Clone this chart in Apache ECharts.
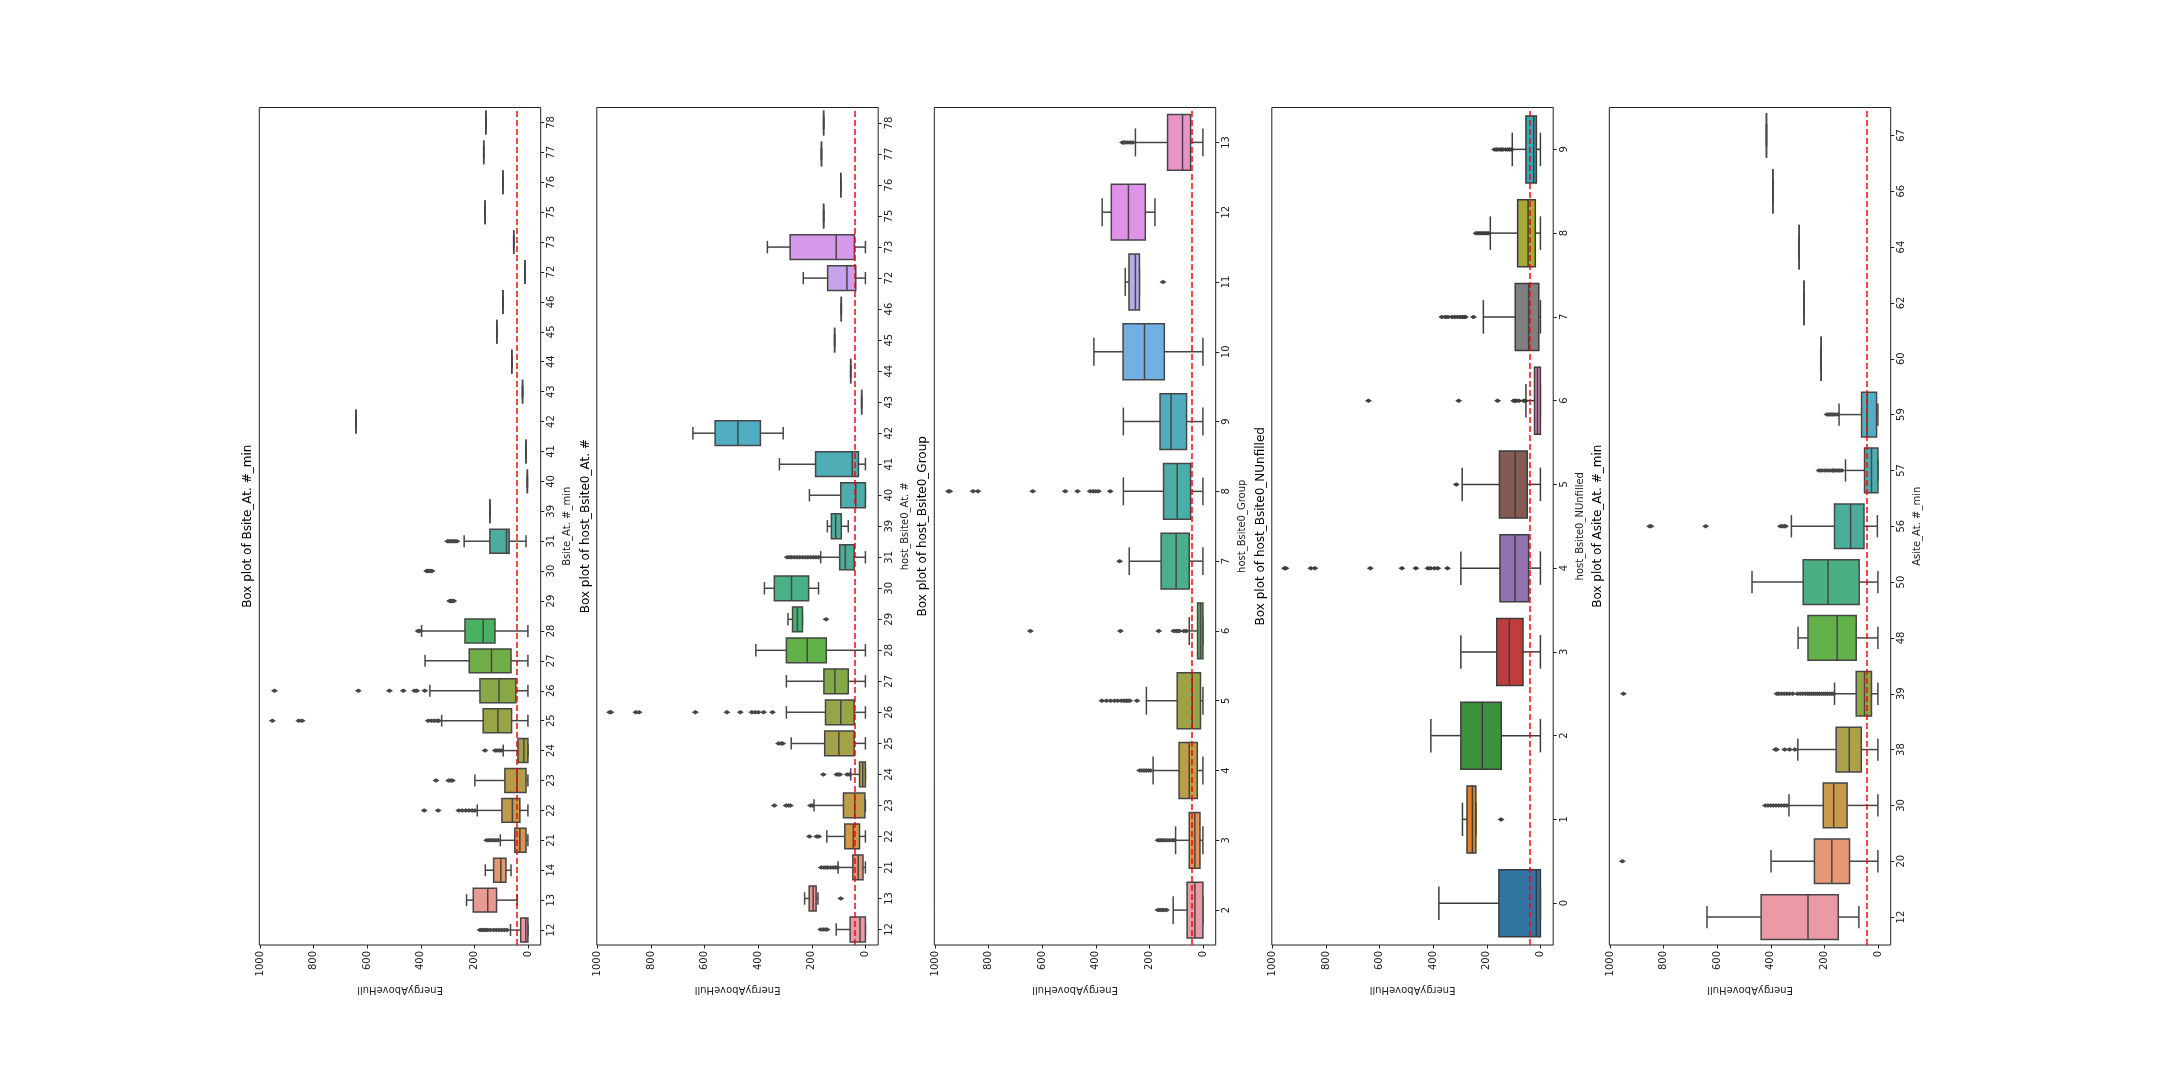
<!DOCTYPE html>
<html><head><meta charset="utf-8">
<script src="https://cdn.jsdelivr.net/npm/echarts@6/dist/echarts.min.js"></script>
<style>html,body{margin:0;padding:0;background:#fff}#c{width:2160px;height:1080px}</style>
</head><body><div id="c"></div>
<script>
// ---------------- data ----------------
const valueTicks = [0, 200, 400, 600, 800, 1000];
const hullThreshold = 41;

const p1Title = 'Box plot of Bsite_At. #_min';
const p1Name = 'Bsite_At. #_min';
const p1Cats = ['12','13','14','21','22','23','24','25','26','27','28','29','30','31','39','40','41','42','43','44','45','46','72','73','75','76','77','78'];
// [min whisker, Q1, median, Q3, max whisker]
const p1Boxes = [
  [0,0,8,27,65],[40,117,150,204,229],[63,82,101,128,159],[0,7,30,49,103],[0,30,58,97,189],
  [0,7,41,86,198],[0,0,15,37,92],[0,61,112,167,322],[0,45,108,179,366],[0,63,136,219,384],
  [0,123,167,235,397],null,null,[7,70,80,142,238],[142,142,142,142,142],[2,2,2,2,2],[7,7,7,7,7],
  [642,642,642,642,642],[20,20,20,20,20],[60,60,60,60,60],[116,116,116,116,116],[93,93,93,93,93],
  [11,11,11,11,11],[53,53,53,53,53],[160,160,160,160,160],[93,93,93,93,93],[165,165,165,165,165],[157,157,157,157,157]
];
const p1Fliers = [
  ['12',[179,172,165,158,150,140,128,118,108,98,88,78]],
  ['21',[154,146,138,130,120,112]],
  ['22',[387,335,258,245,232,220,208,198]],
  ['23',[343,296,288,282]],
  ['24',[160,122,114,106,98]],
  ['25',[954,855,843,372,360,350,340,333]],
  ['26',[946,633,517,465,423,415,385]],
  ['28',[410,404]],
  ['29',[292,289,286,283,280,277]],
  ['30',[378,374,370,366,362,358]],
  ['31',[300,293,286,279,272,265]]
];

const p2Title = 'Box plot of host_Bsite0_At. #';
const p2Name = 'host_Bsite0_At. #';
const p2Cats = ['12','13','21','22','23','24','25','26','27','28','29','30','31','39','40','41','42','43','44','45','46','72','73','75','76','77','78'];
const p2Boxes = [
  [0,0,20,57,109],[177,184,195,210,227],[0,9,27,47,102],[0,22,45,77,144],[0,2,40,82,192],
  [0,0,10,22,55],[0,42,99,152,277],[0,42,92,149,295],[0,64,114,155,295],[0,146,217,295,409],
  [235,235,254,272,289],[175,212,276,340,377],[0,42,75,96,167],[64,90,111,127,142],[0,0,36,92,209],
  [0,26,49,186,321],[307,392,476,561,644],[14,14,14,14,14],[55,55,55,55,55],[115,115,115,115,115],
  [90,90,90,90,90],[0,36,69,141,232],[0,41,109,281,366],[156,156,156,156,156],[92,92,92,92,92],
  [164,164,164,164,164],[156,156,156,156,156]
];
const p2Fliers = [
  ['12',[167,158,150,143]],
  ['13',[92]],
  ['21',[165,155,147,140,130,120,112,105]],
  ['22',[209,182,174]],
  ['23',[340,296,287,280,205,198]],
  ['24',[157,107,100,95,68,60]],
  ['25',[324,314,309]],
  ['26',[955,950,857,845,635,517,467,424,412,400,380,347]],
  ['29',[147]],
  ['31',[292,283,275,265,255,245,235,225,215,205,195,185,175]]
];

const p3Title = 'Box plot of host_Bsite0_Group';
const p3Name = 'host_Bsite0_Group';
const p3Cats = ['2','3','4','5','6','7','8','9','10','11','12','13'];
const p3Boxes = [
  [0,0,30,59,111],[0,11,30,51,102],[0,21,51,89,186],[0,9,40,96,211],[0,0,9,20,51],[0,51,100,156,275],
  [0,46,96,147,297],[0,61,119,160,297],[0,144,218,298,407],[237,237,252,276,290],[179,215,278,342,376],[0,46,76,132,252]
];
const p3Fliers = [
  ['2',[168,160,152,145,136]],
  ['3',[168,160,152,145,135,125,115,108]],
  ['4',[236,228,220,212,204,196]],
  ['5',[377,360,345,330,318,305,295,287,280,273,246]],
  ['6',[644,308,165,109,100,95,88,71,62]],
  ['7',[311]],
  ['8',[950,945,858,840,635,514,468,421,410,400,390,346]],
  ['11',[149]],
  ['13',[300,295,290,280,270,262]]
];

const p4Title = 'Box plot of host_Bsite0_NUnfilled';
const p4Name = 'host_Bsite0_NUnfilled';
const p4Cats = ['0','1','2','3','4','5','6','7','8','9'];
const p4Boxes = [
  [0,0,15,155,379],[241,241,254,274,291],[0,146,217,297,409],[0,65,116,163,297],[0,44,95,151,297],
  [0,49,94,153,292],[0,0,11,22,54],[0,6,44,94,213],[0,19,46,85,187],[0,15,25,54,105]
];
const p4Fliers = [
  ['1',[147]],
  ['4',[955,950,857,842,635,517,465,420,410,395,383,347]],
  ['5',[314]],
  ['6',[642,305,160,100,95,90,80,62,56]],
  ['7',[368,355,345,330,320,310,300,292,285,280,250]],
  ['8',[240,232,225,218,210,202,195]],
  ['9',[171,165,160,152,145,140,130,122,115,108]]
];

const p5Title = 'Box plot of Asite_At. #_min';
const p5Name = 'Asite_At. #_min';
const p5Cats = ['12','20','30','38','39','48','50','56','57','59','60','62','64','66','67'];
const p5Boxes = [
  [71,148,261,436,638],[0,106,172,237,399],[0,115,165,204,332],[0,62,107,156,299],[0,24,50,81,162],
  [0,81,152,261,298],[0,70,186,279,470],[2,52,102,162,323],[0,0,24,50,121],[0,5,40,61,145],
  [212,212,212,212,212],[276,276,276,276,276],[294,294,294,294,294],[392,392,392,392,392],[416,416,416,416,416]
];
const p5Fliers = [
  ['20',[954]],
  ['30',[420,410,400,390,380,370,360,350,340]],
  ['38',[383,378,348,330,310]],
  ['39',[950,377,370,360,350,340,330,318,300,290,280,270,262,255,247,240,232,225,218,210,202,195,188,180,172,165]],
  ['56',[852,847,643,364,357,350,345]],
  ['57',[220,210,200,190,180,170,165,158,150,143,135]],
  ['59',[190,182,175,168,160,150]]
];

// ---------------- colours (seaborn defaults) ----------------
const tab10 = ['#1f77b4','#ff7f0e','#2ca02c','#d62728','#9467bd','#8c564b','#e377c2','#7f7f7f','#bcbd22','#17becf'];
const M = [[3.2406,-1.5372,-0.4986],[-0.9689,1.8758,0.0415],[0.0557,-0.2040,1.0570]];
function maxChroma(L,H){
  const hr=H*Math.PI/180, sinH=Math.sin(hr), cosH=Math.cos(hr);
  const sub1=Math.pow(L+16,3)/1560896, sub2=sub1>0.008856?sub1:L/903.3;
  let res=Infinity;
  for(const [m1,m2,m3] of M){
    const top=(0.99915*m1+1.05122*m2+1.14460*m3)*sub2;
    const rb=0.86330*m3-0.17266*m2, lb=0.12949*m3-0.38848*m1;
    const bottom=(rb*sinH+lb*cosH)*sub2;
    for(const t of [0,1]){
      const C=L*(top-1.05122*t)/(bottom+0.17266*sinH*t);
      if(C>0 && C<res) res=C;
    }
  }
  return res;
}
function huslToRgb(H,S,L){
  const C=maxChroma(L,H)/100*S, hr=H*Math.PI/180;
  const U=Math.cos(hr)*C, V=Math.sin(hr)*C;
  const fy=(L+16)/116, varY=Math.pow(fy,3)>0.008856?Math.pow(fy,3):(116*fy-16)/903.3;
  const varU=U/(13*L)+0.19784, varV=V/(13*L)+0.46834;
  const Y=varY, X=-(9*Y*varU)/((varU-4)*varV-varU*varV), Z=(9*Y-15*varV*Y-varV*X)/(3*varV);
  return M.map(r=>{const c=r[0]*X+r[1]*Y+r[2]*Z; const v=c<=0.0031308?12.92*c:1.055*Math.pow(c,1/2.4)-0.055; return Math.min(1,Math.max(0,v));});
}
function rgbToHls(r,g,b){
  const mx=Math.max(r,g,b), mn=Math.min(r,g,b), l=(mx+mn)/2;
  if(mx===mn) return [0,l,0];
  const s = l<=0.5 ? (mx-mn)/(mx+mn) : (mx-mn)/(2-mx-mn);
  const rc=(mx-r)/(mx-mn), gc=(mx-g)/(mx-mn), bc=(mx-b)/(mx-mn);
  let h = r===mx ? bc-gc : (g===mx ? 2+rc-bc : 4+gc-rc);
  h = ((h/6)%1+1)%1;
  return [h,l,s];
}
function hlsToRgb(h,l,s){
  if(s===0) return [l,l,l];
  const m2 = l<=0.5 ? l*(1+s) : l+s-l*s, m1 = 2*l-m2;
  const v=(hue)=>{hue=((hue%1)+1)%1; if(hue<1/6) return m1+(m2-m1)*hue*6; if(hue<0.5) return m2; if(hue<2/3) return m1+(m2-m1)*(2/3-hue)*6; return m1;};
  return [v(h+1/3),v(h),v(h-1/3)];
}
function hexToRgb(h){return [1,3,5].map(i=>parseInt(h.substr(i,2),16)/255);}
function toHex(rgb){return '#'+rgb.map(c=>Math.round(c*255).toString(16).padStart(2,'0')).join('');}
function desat(rgb,p){const [h,l,s]=rgbToHls(...rgb); return hlsToRgb(h,l,s*p);}
function seabornPalette(n){
  let raw;
  if(n<=10) raw = tab10.slice(0,n).map(hexToRgb);
  else {
    raw=[];
    for(let i=0;i<n;i++){ let h=(i/n+0.01)%1; h*=359; raw.push(huslToRgb(h,0.9*99,70)); }
  }
  const cols = raw.map(c=>desat(c,0.75));
  const lum = Math.min(...cols.map(c=>rgbToHls(...c)[1]))*0.6;
  return {colors: cols.map(toHex), gray: toHex([lum,lum,lum])};
}

// ---------------- layout ----------------
const panels = [
  {title:p1Title, name:p1Name, cats:p1Cats, boxes:p1Boxes, fliers:p1Fliers},
  {title:p2Title, name:p2Name, cats:p2Cats, boxes:p2Boxes, fliers:p2Fliers},
  {title:p3Title, name:p3Name, cats:p3Cats, boxes:p3Boxes, fliers:p3Fliers},
  {title:p4Title, name:p4Name, cats:p4Cats, boxes:p4Boxes, fliers:p4Fliers},
  {title:p5Title, name:p5Name, cats:p5Cats, boxes:p5Boxes, fliers:p5Fliers}
];
const FONT = 'DejaVu Sans';
const gridLefts = [259.3, 596.8, 934.3, 1271.8, 1609.3];
const gridW = 281.4, gridTop = 107.5, gridH = 837.5;

function makeRender(colors, gray){
  return function(params, api){
    const ci = api.value(0);
    const v = [1,2,3,4,5].map(j=>api.value(j));
    const x = v.map(val=>api.coord([val, ci])[0]);
    const yc = api.coord([v[2], ci])[1];
    const band = api.size([0,1])[1];
    const hw = band*0.4, cw = band*0.2;
    const ls = {stroke: gray, lineWidth: 1.5, fill: null};
    const xl = Math.min(x[1],x[3]), xr = Math.max(x[1],x[3]);
    return {type:'group', children:[
      {type:'line', shape:{x1:x[1],y1:yc,x2:x[0],y2:yc}, style:ls},
      {type:'line', shape:{x1:x[3],y1:yc,x2:x[4],y2:yc}, style:ls},
      {type:'line', shape:{x1:x[0],y1:yc-cw,x2:x[0],y2:yc+cw}, style:ls},
      {type:'line', shape:{x1:x[4],y1:yc-cw,x2:x[4],y2:yc+cw}, style:ls},
      {type:'rect', shape:{x:xl,y:yc-hw,width:xr-xl,height:2*hw}, style:{fill:colors[ci], stroke:gray, lineWidth:1.5}},
      {type:'line', shape:{x1:x[2],y1:yc-hw,x2:x[2],y2:yc+hw}, style:ls}
    ]};
  };
}

const grid=[], xAxis=[], yAxis=[], series=[], graphic=[];
panels.forEach((p,k)=>{
  const pal = seabornPalette(p.cats.length);
  grid.push({left:gridLefts[k], top:gridTop, width:gridW, height:gridH, show:true, borderColor:'#222', borderWidth:1, backgroundColor:'#fff'});
  xAxis.push({gridIndex:k, type:'value', inverse:true, min:-47.75, max:1002.75,
    axisLine:{show:false, onZero:false}, splitLine:{show:false},
    axisTick:{show:true, length:3.5, customValues:valueTicks, lineStyle:{color:'#222', width:1}},
    axisLabel:{rotate:90, margin:6, fontSize:10, color:'#222', fontFamily:FONT, customValues:valueTicks,
      formatter:(v)=>String(v)},
    name:'EnergyAboveHull', nameLocation:'middle', nameGap:30, nameRotate:180,
    nameTextStyle:{fontSize:10, color:'#222', fontFamily:FONT}});
  yAxis.push({gridIndex:k, type:'category', data:p.cats, position:'right', boundaryGap:true,
    axisLine:{show:false, onZero:false}, splitLine:{show:false},
    axisTick:{show:true, alignWithLabel:true, length:3.5, lineStyle:{color:'#222', width:1}},
    axisLabel:{rotate:90, margin:6, fontSize:10, color:'#222', fontFamily:FONT, interval:0},
    name:p.name, nameLocation:'middle', nameGap:22,
    nameTextStyle:{fontSize:10, color:'#222', fontFamily:FONT}});
  const boxData = [];
  p.boxes.forEach((b,i)=>{ if(b) boxData.push([i, ...b]); });
  series.push({type:'custom', xAxisIndex:k, yAxisIndex:k, data:boxData, z:2,
    encode:{x:[1,2,3,4,5], y:0}, renderItem:makeRender(pal.colors, pal.gray), silent:true});
  const fl = [];
  p.fliers.forEach(([c,vals])=>vals.forEach(v=>fl.push([v,c])));
  series.push({type:'scatter', xAxisIndex:k, yAxisIndex:k, data:fl, z:3, silent:true,
    symbol:'diamond', symbolSize:[7,4.5], itemStyle:{color:pal.gray, opacity:1},
    markLine:{silent:true, symbol:'none', label:{show:false}, z:5,
      lineStyle:{color:'#ff0000', type:[6,3], width:1.7, opacity:0.85}, data:[{xAxis:hullThreshold}]}});
  graphic.push({type:'text', x:gridLefts[k]-11, y:gridTop+gridH/2, rotation:Math.PI/2,
    style:{text:p.title, font:'12px "DejaVu Sans"', fill:'#000', align:'center', verticalAlign:'middle'}});
});

const chart = echarts.init(document.getElementById('c'), null, {renderer:'canvas'});
chart.setOption({animation:false, backgroundColor:'#fff', grid, xAxis, yAxis, series, graphic});
</script></body></html>
